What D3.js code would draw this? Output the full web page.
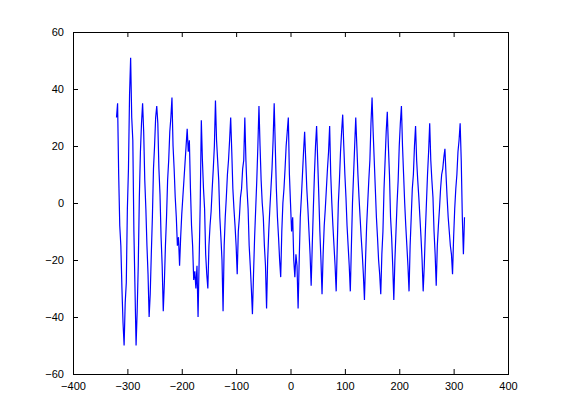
<!DOCTYPE html>
<html>
<head>
<meta charset="utf-8">
<script src="https://cdn.jsdelivr.net/npm/d3@7"></script>
<style>
  body { margin: 0; background: #fff; }
  svg text { font-family: "Liberation Sans", Arial, sans-serif; font-size: 11px; fill: #000; }
</style>
</head>
<body>
<div id="chart"></div>
<script>
// sample grid: every 2 units from -320 to 320
const xs = d3.range(-320, 321, 2);
// signal values, one per sample
const ys = [
  30, 35, 10, -8, -15, -30, -42, -50, -35, -28, -2, 12, 38, 51, 30, 22, -10, -30, -50, -38,   // -320 .. -282
  -22, 2, 18, 28, 35, 25, 8, -2, -15, -25, -40, -32, -18, -5, 12, 20, 30, 34, 28, 12,          // -280 .. -242
  3, -12, -22, -38, -28, -15, -5, 8, 15, 25, 30, 37, 20, 12, 2, -5, -15, -12, -22, -12,        // -240 .. -202
  -4, 2, 8, 14, 20, 26, 18, 22, 5, -8, -15, -27, -24, -30, -22, -40, -20, 0, 29, 15,           // -200 .. -162
  5, -2, -18, -25, -30, -15, -8, -3, 5, 12, 20, 36, 22, 15, 8, -5, -12, -20, -38, -15,         // -160 .. -122
  -5, 2, 10, 15, 22, 30, 18, 5, -2, -8, -15, -25, -10, -5, 2, 5, 12, 15, 30, 15,               // -120 .. -82
  5, -2, -15, -22, -30, -39, -25, -12, -2, 8, 20, 34, 20, 8, 0, -5, -15, -22, -37, -20,        // -80 .. -42
  -10, -2, 5, 12, 22, 35, 20, 5, -5, -12, -20, -26, -10, 0, 5, 12, 20, 25, 30, 10,             // -40 .. -2
  0, -10, -5, -20, -26, -18, -22, -37, -20, -5, 2, 10, 18, 25, 15, 5, -2, -10, -18, -29,       // 0 .. 38
  -15, -2, 10, 20, 27, 15, 3, -10, -20, -32, -18, -8, -2, 5, 12, 18, 27, 10, 0, -8,            // 40 .. 78
  -15, -22, -31, -15, 0, 8, 18, 25, 31, 20, 10, 2, -8, -15, -22, -31, -15, 0, 10, 20,          // 80 .. 118
  30, 20, 10, 2, -5, -12, -18, -25, -34, -20, -8, 0, 8, 15, 28, 37, 25, 15, 5, -5,             // 120 .. 158
  -12, -20, -25, -32, -18, -10, 5, 15, 25, 32, 20, 10, -5, -12, -22, -34, -20, -10, 0, 8,      // 160 .. 198
  20, 28, 34, 20, 10, 0, -8, -15, -22, -31, -15, -5, 5, 10, 20, 27, 15, 8, 2, -5,              // 200 .. 238
  -12, -20, -31, -22, -10, 0, 10, 18, 28, 15, 8, 2, -10, -18, -29, -15, -8, -2, 5, 10,         // 240 .. 278
  12, 16, 19, 10, 2, -5, -10, -15, -18, -25, -12, -2, 5, 10, 18, 22, 28, 15, -5, -18,          // 280 .. 318
  -5                                                                                             // 320
];

const xTicks = [-400, -300, -200, -100, 0, 100, 200, 300, 400];
const yTicks = [-60, -40, -20, 0, 20, 40, 60];

const W = 561, H = 420;
const m = {left: 73, right: 53, top: 32, bottom: 46};

const svg = d3.select("#chart").append("svg")
  .attr("width", W)
  .attr("height", H);

const x = d3.scaleLinear().domain([-400, 400]).range([m.left, W - m.right]);
const y = d3.scaleLinear().domain([-60, 60]).range([H - m.bottom, m.top]);

const n = Math.min(xs.length, ys.length);
const line = d3.line()
  .x(i => x(xs[i]))
  .y(i => y(ys[i]));

svg.append("path")
  .datum(d3.range(n))
  .attr("d", line)
  .attr("fill", "none")
  .attr("stroke", "#0000ff")
  .attr("stroke-width", 1.2);

// MATLAB style box, ticks pointing inward on all four sides
const tk = 5;
svg.append("g").attr("transform", `translate(0,${H - m.bottom})`)
  .call(d3.axisBottom(x).tickValues(xTicks).tickSize(-tk).tickPadding(8).tickFormat(d3.format("d")))
  .call(g => g.select(".domain").remove());
svg.append("g").attr("transform", `translate(0,${m.top})`)
  .call(d3.axisTop(x).tickValues(xTicks).tickSize(-tk).tickFormat(""))
  .call(g => g.select(".domain").remove());
svg.append("g").attr("transform", `translate(${m.left},0)`)
  .call(d3.axisLeft(y).tickValues(yTicks).tickSize(-tk).tickPadding(9).tickFormat(d3.format("d")))
  .call(g => g.select(".domain").remove());
svg.append("g").attr("transform", `translate(${W - m.right},0)`)
  .call(d3.axisRight(y).tickValues(yTicks).tickSize(-tk).tickFormat(""))
  .call(g => g.select(".domain").remove());

svg.selectAll(".tick text").style("font-family", "Liberation Sans, Arial, sans-serif").style("font-size", "11px");

svg.append("rect")
  .attr("x", m.left).attr("y", m.top)
  .attr("width", W - m.left - m.right)
  .attr("height", H - m.top - m.bottom)
  .attr("fill", "none")
  .attr("stroke", "#000")
  .attr("shape-rendering", "crispEdges");
</script>
</body>
</html>
